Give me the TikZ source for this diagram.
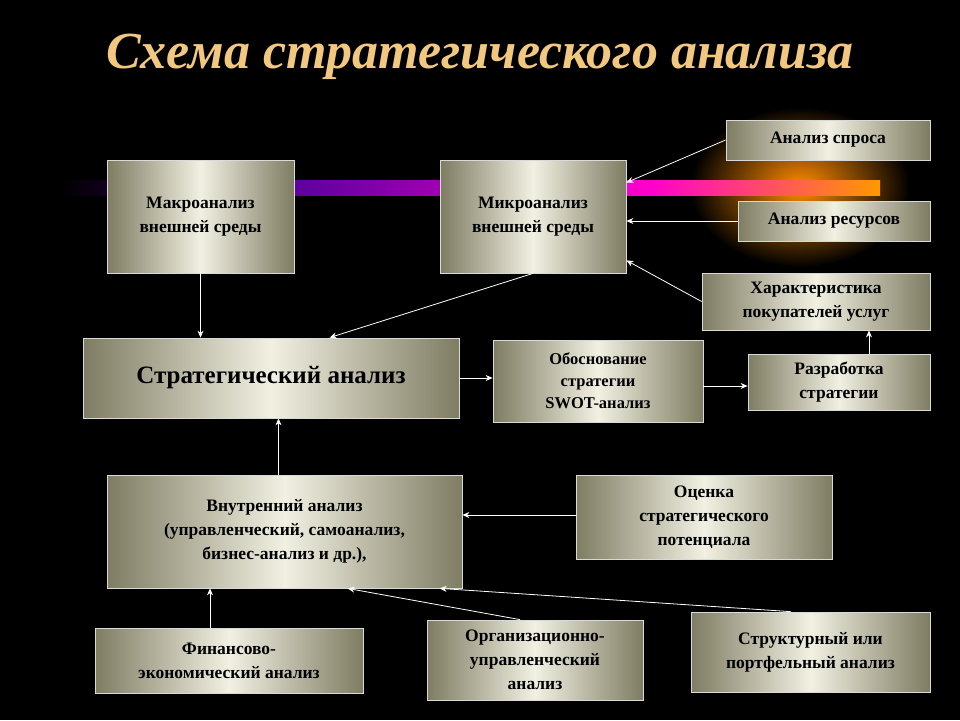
\documentclass[tikz,border=0pt]{standalone}
\usepackage{fontspec}
\setmainfont{Liberation Serif}
\usetikzlibrary{calc,arrows.meta}
\definecolor{metd}{HTML}{7E7C62}
\definecolor{metl}{HTML}{F2F0E2}
\definecolor{gold}{HTML}{F2C880}
\tikzset{
  box/.style={draw=white!85!black, line width=0.8pt, left color=metd, right color=metd, middle color=metl,
    align=center, font=\bfseries\fontsize{17.5}{24}\selectfont, inner sep=2pt},
  arr/.style={draw=white, line width=0.8pt, -{Stealth[length=7pt,width=6pt]}}
}
\newcommand{\bx}[6]{\node[box, minimum width=#4, minimum height=#5] (#1) at (#2,#3) {#6};}
\begin{document}
\begin{tikzpicture}[x=1pt,y=-1pt]
\fill[black] (0,0) rectangle (960,720);
% glow streak
\fill[inner color=orange!90!yellow, outer color=black] (800,187) ellipse (110 and 80);
\fill[left color=black, right color=blue!50!purple] (60,180) rectangle (300,195);
\fill[left color=blue!50!purple, right color=magenta!80!red] (300,180) rectangle (650,195);
\fill[left color=magenta!80!red, right color=orange!80!yellow] (650,180) rectangle (880,195);
\node[font=\bfseries\itshape\fontsize{52}{58}\selectfont, text=gold] (title) at (480,57) {Схема стратегического анализа};
\bx{macro}{200.5}{216.5}{187}{113}{Макроанализ\\внешней среды}
\bx{micro}{533}{216.5}{186}{113}{Микроанализ\\внешней среды}
\bx{spros}{828}{140}{204}{40}{Анализ спроса}
\bx{res}{834}{221}{192}{40}{Анализ ресурсов}
\bx{har}{816}{301.5}{228}{57}{Характеристика\\покупателей услуг}
\node[box, minimum width=376, minimum height=80, font=\bfseries\fontsize{25}{29}\selectfont] (strat) at (271,378) {Стратегический анализ};
\node[box, minimum width=210, minimum height=82, font=\bfseries\fontsize{16.5}{22}\selectfont] (obos) at (598,381) {Обоснование\\стратегии\\SWOT-анализ};
\bx{razr}{839}{382}{182}{56}{Разработка\\стратегии}
\bx{vnut}{284.5}{531.5}{355}{113}{Внутренний анализ\\(управленческий, самоанализ,\\бизнес-анализ и др.),}
\bx{ocen}{704}{517}{256}{84}{Оценка\\стратегического\\потенциала}
\bx{fin}{229}{660.5}{268}{65}{Финансово-\\экономический анализ}
\bx{org}{535}{660}{216}{80}{Организационно-\\управленческий\\анализ}
\bx{str}{810.5}{652}{239}{80}{Структурный или\\портфельный анализ}
\draw[arr] (macro.south) -- (macro.south |- strat.north);
\draw[arr] (micro.south) -- ($(strat.north west)+(247,0)$);
\draw[arr] (spros.west) -- ($(micro.north east)+(0,23)$);
\draw[arr] (res.west) -- (res.west -| micro.east);
\draw[arr] (har.west) -- ($(micro.south east)+(0,-13)$);
\draw[arr] (strat.east) -- (strat.east -| obos.west);
\draw[arr] ($(obos.east)+(0,5)$) -- ($(obos.east -| razr.west)+(0,5)$);
\draw[arr] ($(razr.north)+(30,0)$) -- ($(razr.north |- har.south)+(30,0)$);
\draw[arr] ($(vnut.north)+(-6,0)$) -- ($(vnut.north |- strat.south)+(-6,0)$);
\draw[arr] ($(ocen.west)+(0,-2)$) -- ($(ocen.west -| vnut.east)+(0,-2)$);
\draw[arr] ($(fin.north)+(-19,0)$) -- ($(fin.north |- vnut.south)+(-19,0)$);
\draw[arr] ($(org.north)+(-15,0)$) -- ($(vnut.south west)+(241,0)$);
\draw[arr] ($(str.north)+(-20,0)$) -- ($(vnut.south west)+(333,0)$);
\end{tikzpicture}
\end{document}
